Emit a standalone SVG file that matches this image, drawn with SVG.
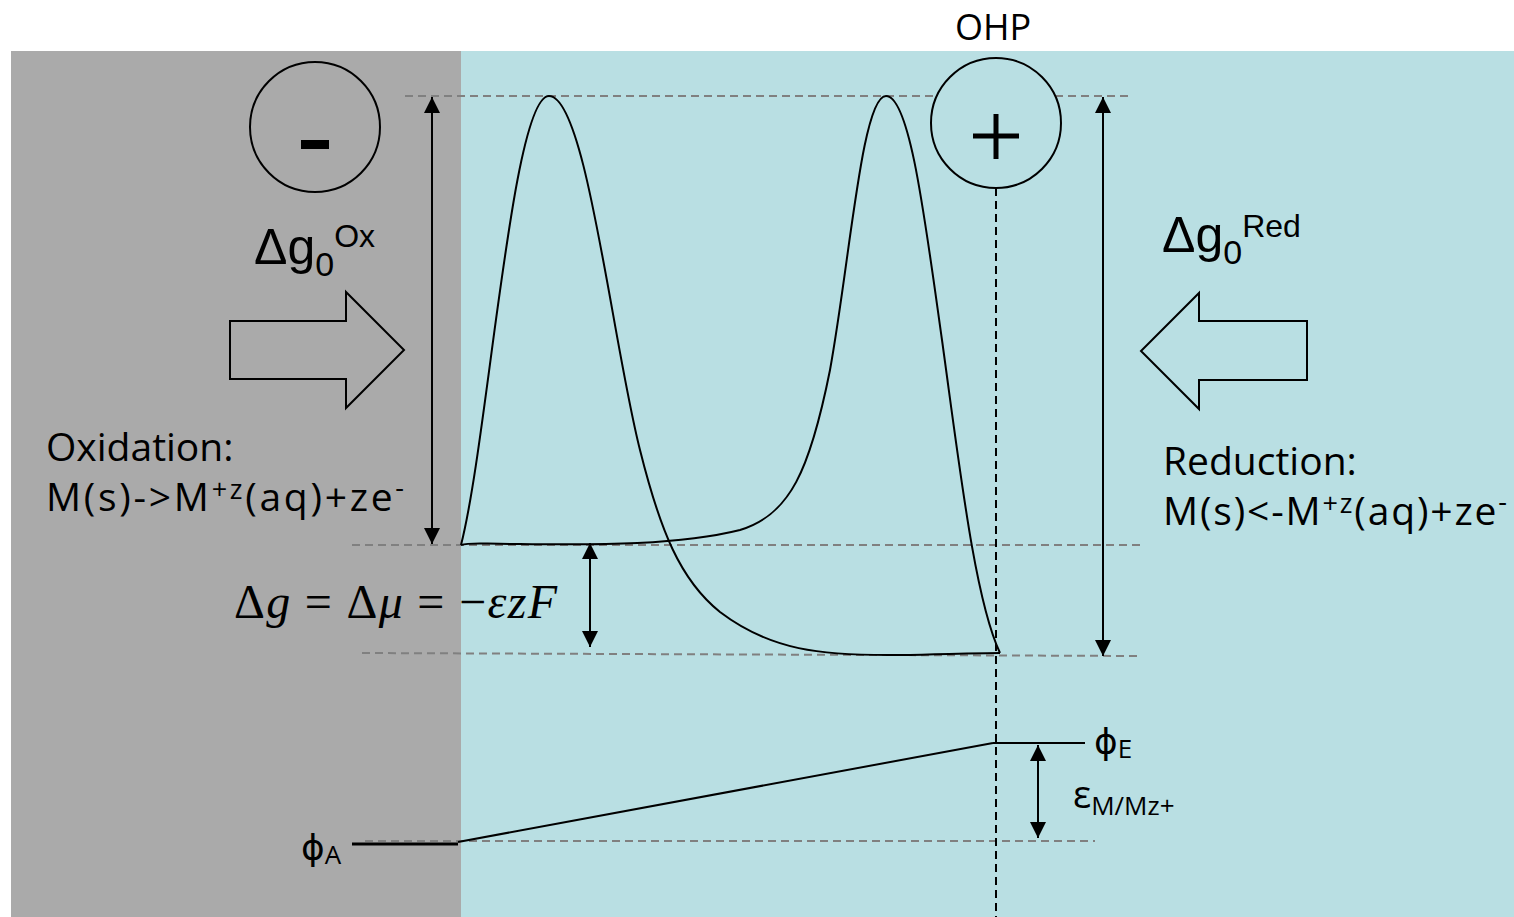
<svg xmlns="http://www.w3.org/2000/svg" width="1514" height="917" viewBox="0 0 1514 917">
<defs>
<marker id="ah" markerUnits="userSpaceOnUse" markerWidth="16" markerHeight="18" refX="16" refY="8" orient="auto-start-reverse">
<path d="M0,0 L16,8 L0,16 Z" fill="#000"/>
</marker>
<style>
.dash{stroke:#808080;stroke-width:2;stroke-dasharray:8,5;fill:none}
.arr{stroke:#000;stroke-width:2;fill:none;marker-start:url(#ah);marker-end:url(#ah)}
.curve{stroke:#000;stroke-width:2;fill:none}
.t{font-family:"Open Sans","DejaVu Sans",sans-serif;fill:#000}
.s{font-family:"Liberation Sans",Arial,sans-serif;fill:#000}
.m{font-family:"Liberation Serif","Times New Roman",serif;fill:#000}
.blk{fill:none;stroke:#000;stroke-width:2}
</style>
</defs>
<rect x="0" y="0" width="1514" height="917" fill="#fff"/>
<rect x="11" y="51" width="450" height="866" fill="#aaaaaa"/>
<rect x="461" y="51" width="1053" height="866" fill="#b9dfe3"/>

<g id="guides">
<line class="dash" x1="405" y1="96" x2="1128" y2="96"/>
<line class="dash" x1="352" y1="545" x2="1142" y2="545"/>
<line class="dash" x1="362" y1="653" x2="1140" y2="656"/>
<line class="dash" x1="365" y1="841" x2="1095" y2="841"/>
<line x1="996" y1="188" x2="996" y2="917" stroke="#000" stroke-width="2" stroke-dasharray="8,5"/>
</g>

<text class="t" x="993" y="40" font-size="36" text-anchor="middle">OHP</text>

<g id="minus">
<circle cx="315" cy="127" r="65" fill="#aaaaaa" stroke="#000" stroke-width="2"/>
<rect x="301" y="140" width="28" height="9" fill="#000"/>
</g>

<g id="plus">
<circle cx="996" cy="123" r="65" fill="#b9dfe3" stroke="#000" stroke-width="2"/>
<line x1="973" y1="136" x2="1019" y2="136" stroke="#000" stroke-width="5"/>
<line x1="996" y1="114" x2="996" y2="159" stroke="#000" stroke-width="5"/>
</g>

<g id="connectors">
<line class="arr" x1="432" y1="97" x2="432" y2="544"/>
<line class="arr" x1="1103" y1="97" x2="1103" y2="656"/>
<line class="arr" x1="590" y1="543" x2="590" y2="647"/>
<line class="arr" x1="1038" y1="745" x2="1038" y2="838"/>
</g>

<g id="curves">
<path class="curve" d="M461,545 C488,440 512,96 549,96 C586,96 612,340 640,450 C660,530 680,580 720,612 C770,650 820,656 900,655 C950,654 980,653 1000,653"/>
<path class="curve" d="M461,545 C470,542 480,544 520,544 C600,545 680,545 740,530 C790,515 810,470 830,370 C850,260 862,96 886,96 C910,96 925,220 942,340 C960,470 975,600 1000,653"/>
</g>

<g id="potential">
<line x1="352" y1="844" x2="458" y2="844" stroke="#000" stroke-width="3"/>
<line x1="458" y1="842" x2="993" y2="743" stroke="#000" stroke-width="2"/>
<line x1="993" y1="743" x2="1085" y2="743" stroke="#000" stroke-width="2"/>
</g>

<g id="oxArrow">
<path class="blk" d="M230,321 L346,321 L346,292 L404,350 L346,408 L346,379 L230,379 Z"/>
</g>
<g id="redArrow">
<path class="blk" d="M1307,321 L1199,321 L1199,293 L1141,351 L1199,409 L1199,380 L1307,380 Z"/>
</g>

<g id="labels">
<text class="s" x="254" y="264" font-size="50">Δg<tspan font-size="34" dy="12">0</tspan><tspan font-size="32" dy="-29">Ox</tspan></text>
<text class="s" x="1162" y="252" font-size="50">Δg<tspan font-size="34" dy="12">0</tspan><tspan font-size="32" dy="-27">Red</tspan></text>
<text class="t" x="46" y="461" font-size="39">Oxidation:</text>
<text class="t" x="46" y="511" font-size="39" textLength="358" lengthAdjust="spacing">M(s)-&gt;M<tspan font-size="27" dy="-12">+z</tspan><tspan dy="12">(aq)+ze</tspan><tspan font-size="27" dy="-14">-</tspan></text>
<text class="t" x="1163" y="475" font-size="39">Reduction:</text>
<text class="t" x="1163" y="525" font-size="39" textLength="344" lengthAdjust="spacing">M(s)&lt;-M<tspan font-size="27" dy="-12">+z</tspan><tspan dy="12">(aq)+ze</tspan><tspan font-size="27" dy="-14">-</tspan></text>
<text class="m" x="234" y="618" font-size="48" textLength="323" lengthAdjust="spacing">Δ<tspan font-style="italic">g</tspan> = Δ<tspan font-style="italic">μ</tspan> = −<tspan font-style="italic">εzF</tspan></text>
<text class="t" x="1094" y="754" font-size="36">ϕ<tspan font-size="26" dy="4">E</tspan></text>
<text class="t" x="1073" y="808" font-size="38">ε<tspan font-size="26" dy="7">M/Mz+</tspan></text>
<text class="t" x="301" y="860" font-size="36">ϕ<tspan font-size="26" dy="4">A</tspan></text>
</g>
</svg>
